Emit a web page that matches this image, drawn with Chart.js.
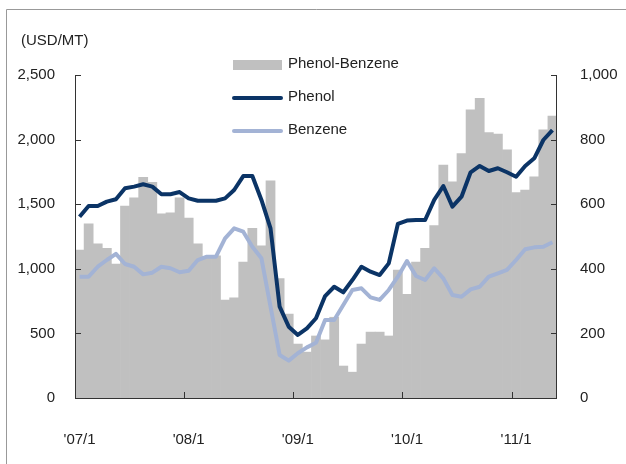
<!DOCTYPE html>
<html>
<head>
<meta charset="utf-8">
<script src="https://cdn.jsdelivr.net/npm/chart.js@4/dist/chart.umd.min.js"></script>
<style>
  html, body { margin: 0; padding: 0; background: #fff; }
</style>
</head>
<body>
<canvas id="chart" width="626" height="464"></canvas>
<script>
const months = [
  "'07/1", "'07/2", "'07/3", "'07/4", "'07/5", "'07/6", "'07/7", "'07/8", "'07/9", "'07/10", "'07/11", "'07/12",
  "'08/1", "'08/2", "'08/3", "'08/4", "'08/5", "'08/6", "'08/7", "'08/8", "'08/9", "'08/10", "'08/11", "'08/12",
  "'09/1", "'09/2", "'09/3", "'09/4", "'09/5", "'09/6", "'09/7", "'09/8", "'09/9", "'09/10", "'09/11", "'09/12",
  "'10/1", "'10/2", "'10/3", "'10/4", "'10/5", "'10/6", "'10/7", "'10/8", "'10/9", "'10/10", "'10/11", "'10/12",
  "'11/1", "'11/2", "'11/3", "'11/4", "'11/5"
];
const shownLabels = ["'07/1", "'08/1", "'09/1", "'10/1", "'11/1"];

// Phenol-Benzene spread (right axis)
const spread = [
  458, 539, 477, 463, 415, 594, 620, 683, 668, 570, 573, 620,
  557, 477, 438, 440, 303, 310, 421, 525, 471, 672, 370, 260,
  167, 142, 192, 180, 250, 99, 80, 167, 204, 204, 192, 396,
  321, 421, 463, 534, 721, 669, 757, 892, 928, 822, 817, 768,
  636, 644, 685, 830, 873
];
// Phenol price (left axis)
const phenol = [
  1403, 1486, 1486, 1520, 1538, 1623, 1636, 1654, 1636, 1577, 1577, 1594,
  1545, 1527, 1527, 1527, 1545, 1610, 1718, 1718, 1533, 1313, 707, 552,
  488, 539, 617, 789, 861, 818, 913, 1016, 978, 952, 1042, 1347,
  1373, 1378, 1378, 1533, 1641, 1481, 1558, 1747, 1796, 1757, 1778, 1747,
  1713, 1796, 1855, 1997, 2074
];
// Benzene price (left axis)
const benzene = [
  939, 939, 1016, 1068, 1115, 1037, 1016, 957, 970, 1016, 1004, 973,
  985, 1068, 1094, 1094, 1236, 1313, 1287, 1171, 1081, 707, 333, 289,
  346, 392, 428, 604, 604, 720, 836, 849, 779, 759, 836, 939,
  1060, 944, 913, 1004, 926, 797, 784, 841, 861, 939, 965, 991,
  1068, 1151, 1166, 1171, 1205
];

const leftTicks = [0, 500, 1000, 1500, 2000, 2500];
const rightTicks = [0, 200, 400, 600, 800, 1000];

const FONT = "'Liberation Sans', Arial, sans-serif";
Chart.defaults.font.family = FONT;
Chart.defaults.font.size = 15;
Chart.defaults.color = '#222';

const fmt = v => Number(v).toLocaleString('en-US');

// axis lines, inner tick marks, legend, unit label and outer frame
const decorations = {
  id: 'decorations',
  beforeDraw(chart) {
    const ctx = chart.ctx;
    ctx.save();
    ctx.strokeStyle = '#999';
    ctx.lineWidth = 1;
    ctx.beginPath();
    ctx.moveTo(6.5, chart.height);
    ctx.lineTo(6.5, 9.5);
    ctx.lineTo(chart.width, 9.5);
    ctx.stroke();
    ctx.restore();
  },
  afterDatasetsDraw(chart) {
    const { ctx, chartArea: a, scales } = chart;
    const tick = 6;
    ctx.save();
    ctx.strokeStyle = '#333';
    ctx.lineWidth = 1;
    ctx.beginPath();
    // axes
    ctx.moveTo(a.left + 0.5, a.top);
    ctx.lineTo(a.left + 0.5, a.bottom + 0.5);
    ctx.lineTo(a.right - 0.5, a.bottom + 0.5);
    ctx.lineTo(a.right - 0.5, a.top);
    leftTicks.forEach(v => {
      const y = Math.round(scales.y.getPixelForValue(v)) + 0.5;
      ctx.moveTo(a.left, y);
      ctx.lineTo(a.left + tick, y);
    });
    rightTicks.forEach(v => {
      const y = Math.round(scales.y1.getPixelForValue(v)) + 0.5;
      ctx.moveTo(a.right, y);
      ctx.lineTo(a.right - tick, y);
    });
    const half = (scales.x.getPixelForValue(1) - scales.x.getPixelForValue(0)) / 2;
    shownLabels.forEach(lbl => {
      const i = months.indexOf(lbl);
      const x = Math.round(scales.x.getPixelForValue(i) - half) + 0.5;
      ctx.moveTo(x, a.bottom);
      ctx.lineTo(x, a.bottom - tick);
    });
    ctx.stroke();
    ctx.restore();
  },
  afterDraw(chart) {
    const ctx = chart.ctx;
    ctx.save();
    ctx.font = '15px ' + FONT;
    ctx.fillStyle = '#222';
    ctx.textBaseline = 'middle';
    ctx.textAlign = 'left';
    ctx.fillText('(USD/MT)', 21, 41);

    // legend
    const rows = [65, 98, 131];
    chart.data.datasets.forEach((d, r) => {
      const y = rows[r];
      if (d.type === 'bar') {
        ctx.fillStyle = d.backgroundColor;
        ctx.fillRect(233, y - 5, 49, 10);
      } else {
        ctx.strokeStyle = d.borderColor;
        ctx.lineWidth = 4;
        ctx.lineCap = 'round';
        ctx.beginPath();
        ctx.moveTo(234, y);
        ctx.lineTo(281, y);
        ctx.stroke();
      }
      ctx.fillStyle = '#222';
      ctx.fillText(d.label, 288, y - 1);
    });
    ctx.restore();
  }
};

new Chart(document.getElementById('chart'), {
  data: {
    labels: months,
    datasets: [
      {
        type: 'bar',
        label: 'Phenol-Benzene',
        data: spread,
        yAxisID: 'y1',
        backgroundColor: '#c0c0c0',
        borderWidth: 0,
        barPercentage: 1,
        categoryPercentage: 1,
        order: 3
      },
      {
        type: 'line',
        label: 'Phenol',
        data: phenol,
        yAxisID: 'y',
        borderColor: '#0b3466',
        borderWidth: 4,
        pointRadius: 0,
        tension: 0,
        borderJoinStyle: 'round',
        order: 1
      },
      {
        type: 'line',
        label: 'Benzene',
        data: benzene,
        yAxisID: 'y',
        borderColor: '#a3b3d5',
        borderWidth: 4,
        pointRadius: 0,
        tension: 0,
        borderJoinStyle: 'round',
        order: 2
      }
    ]
  },
  options: {
    responsive: false,
    animation: false,
    layout: { padding: { top: 75, left: 0, right: 0, bottom: 0 } },
    plugins: { legend: { display: false }, tooltip: { enabled: false } },
    scales: {
      x: {
        type: 'category',
        offset: true,
        grid: { display: false, offset: true },
        border: { display: false },
        ticks: {
          autoSkip: false,
          maxRotation: 0,
          padding: 25,
          callback: (v, i) => shownLabels.includes(months[i]) ? months[i] : ''
        },
        afterFit: s => { s.height = 66; }
      },
      y: {
        position: 'left',
        min: 0,
        max: 2500,
        grid: { display: false },
        border: { display: false },
        afterBuildTicks: s => { s.ticks = leftTicks.map(v => ({ value: v })); },
        ticks: { padding: 12, callback: v => fmt(v) },
        afterFit: s => { s.width = 75; }
      },
      y1: {
        position: 'right',
        min: 0,
        max: 1000,
        grid: { display: false },
        border: { display: false },
        afterBuildTicks: s => { s.ticks = rightTicks.map(v => ({ value: v })); },
        ticks: { padding: 15, callback: v => fmt(v) },
        afterFit: s => { s.width = 69; }
      }
    }
  },
  plugins: [decorations]
});
</script>
</body>
</html>
